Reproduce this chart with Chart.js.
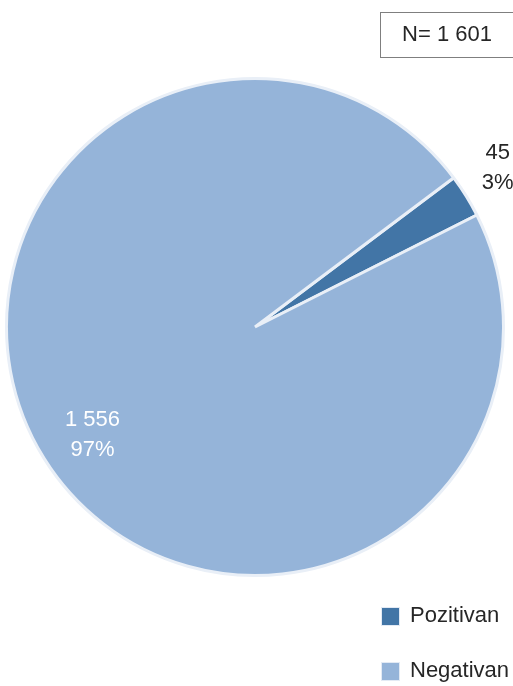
<!DOCTYPE html>
<html>
<head>
<meta charset="utf-8">
<script src="https://cdn.jsdelivr.net/npm/chart.js@4.4.0/dist/chart.umd.min.js"></script>
<style>
  html, body { margin: 0; padding: 0; background: #ffffff; }
  canvas { display: block; }
</style>
</head>
<body>
<canvas id="pie-chart" width="513" height="686"></canvas>
<script>
var labels = ["Pozitivan", "Negativan"];
var values = [45, 1556];
var colors = ["#4275a6", "#95b4d9"];

var FONT = '"Liberation Sans", Arial, sans-serif';

function fmt(n) {
  return String(n).replace(/\B(?=(\d{3})+(?!\d))/g, " ");
}

var total = values.reduce(function (a, b) { return a + b; }, 0);

// slice labels, N box and legend
var extras = {
  id: 'extras',
  afterDatasetsDraw: function (chart) {
    var ctx = chart.ctx;
    var meta = chart.getDatasetMeta(0);
    ctx.save();
    ctx.font = '22px ' + FONT;
    ctx.textAlign = 'center';
    ctx.textBaseline = 'middle';
    meta.data.forEach(function (arc, i) {
      var p = arc.getProps(['x', 'y', 'startAngle', 'endAngle', 'outerRadius']);
      var mid = (p.startAngle + p.endAngle) / 2;
      var pct = Math.round(values[i] / total * 100) + '%';
      var r, col, dy;
      if (values[i] / total < 0.1) {
        r = p.outerRadius * 1.15;
        col = '#262626';
        dy = -8;
      } else {
        r = p.outerRadius * 0.77;
        col = '#ffffff';
        dy = 7;
      }
      var x = p.x + Math.cos(mid) * r;
      var y = p.y + Math.sin(mid) * r + dy;
      ctx.fillStyle = col;
      ctx.fillText(fmt(values[i]), x, y - 15);
      ctx.fillText(pct, x, y + 15);
    });

    // N box
    ctx.strokeStyle = '#7f7f7f';
    ctx.lineWidth = 1;
    ctx.strokeRect(380.5, 12.5, 140, 45);
    ctx.fillStyle = '#262626';
    ctx.fillText('N= ' + fmt(total), 447, 35);

    // legend
    ctx.textAlign = 'left';
    labels.forEach(function (lab, i) {
      var cy = 616 + i * 55;
      ctx.fillStyle = colors[i];
      ctx.fillRect(382, cy - 8, 17, 17);
      ctx.strokeStyle = '#e3eaf4';
      ctx.lineWidth = 1;
      ctx.strokeRect(381.5, cy - 8.5, 18, 18);
      ctx.fillStyle = '#262626';
      ctx.fillText(lab, 410, cy);
    });
    ctx.restore();
  }
};

new Chart(document.getElementById("pie-chart"), {
  type: 'pie',
  data: {
    labels: labels,
    datasets: [{
      data: values,
      backgroundColor: colors,
      borderColor: '#e9eff7',
      borderWidth: 3
    }]
  },
  options: {
    responsive: false,
    animation: false,
    rotation: 53.1,
    layout: { padding: { left: 5, right: 8, top: 77, bottom: 109 } },
    plugins: {
      legend: { display: false },
      tooltip: { enabled: false },
      title: { display: false }
    }
  },
  plugins: [extras]
});
</script>
</body>
</html>
